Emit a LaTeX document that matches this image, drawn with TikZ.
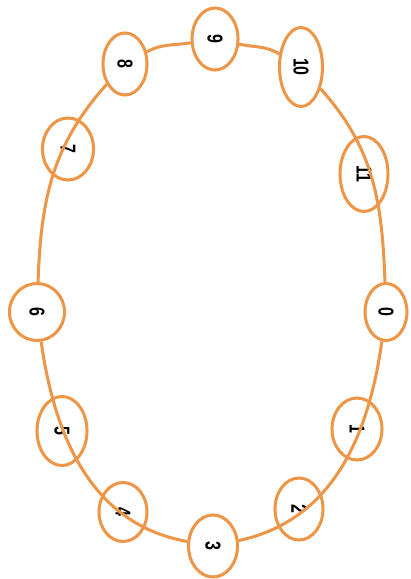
\documentclass[tikz,border=0pt]{standalone}
\usepackage{fontspec}
\newfontfamily\hourfont[FakeStretch=0.74]{Liberation Sans}
\usepackage{tikz}
\usepackage{xcolor}
\usetikzlibrary{shapes.geometric}
\definecolor{cOrange}{RGB}{238,150,72}
\newcommand{\hourlabel}[1]{\rotatebox{-90}{\hourfont\bfseries\fontsize{18.4}{18}\selectfont #1}}
\tikzset{
	hour/.style    ={ellipse, draw=cOrange, line width=2.6pt, inner sep=0pt, minimum width=1.44cm, minimum height=1.86cm, text=black},
	ringedge/.style={draw=cOrange, line width=2.6pt},
}
\begin{document}
\begin{tikzpicture}[x=0.03cm, y=0.03cm]
	\useasboundingbox (0,0) rectangle (410,579);
	\node[hour, minimum width=1.26cm, minimum height=1.71cm] (n0) at (386,267) {\hourlabel{0}};
	\node[hour, minimum width=1.5cm] (n1) at (357,150) {\hourlabel{1}};
	\node[hour] (n2) at (299,70) {\hourlabel{2}};
	\node[hour, minimum width=1.47cm] (n3) at (213,33) {\hourlabel{3}};
	\node[hour, minimum height=1.77cm] (n4) at (123,67) {\hourlabel{4}};
	\node[hour, minimum width=1.5cm, minimum height=2.07cm] (n5) at (62,148) {\hourlabel{5}};
	\node[hour, minimum width=1.65cm, minimum height=1.71cm] (n6) at (37,267) {\hourlabel{6}};
	\node[hour, minimum width=1.53cm] (n7) at (68,430) {\hourlabel{7}};
	\node[hour, minimum width=1.32cm] (n8) at (125,515) {\hourlabel{8}};
	\node[hour, minimum width=1.38cm] (n9) at (215,540) {\hourlabel{9}};
	\node[hour, minimum width=1.29cm, minimum height=2.37cm] (n10) at (301,512) {\hourlabel{10}};
	\node[hour, minimum height=2.25cm] (n11) at (364,405) {\hourlabel{11}};
	\draw[ringedge] (n9) to[out=189, in=29] (n8);
	\draw[ringedge] (n9) to[out=-12, in=149] (n10);
	\draw[ringedge] (n8) to[out=228, in=88] (n6);
	\draw[ringedge] (n10) to[out=-48, in=92] (n0);
	\draw[ringedge] (n0) to[out=262, in=12] (n3);
	\draw[ringedge] (n6) to[out=278, in=170] (n3);
\end{tikzpicture}
\end{document}
